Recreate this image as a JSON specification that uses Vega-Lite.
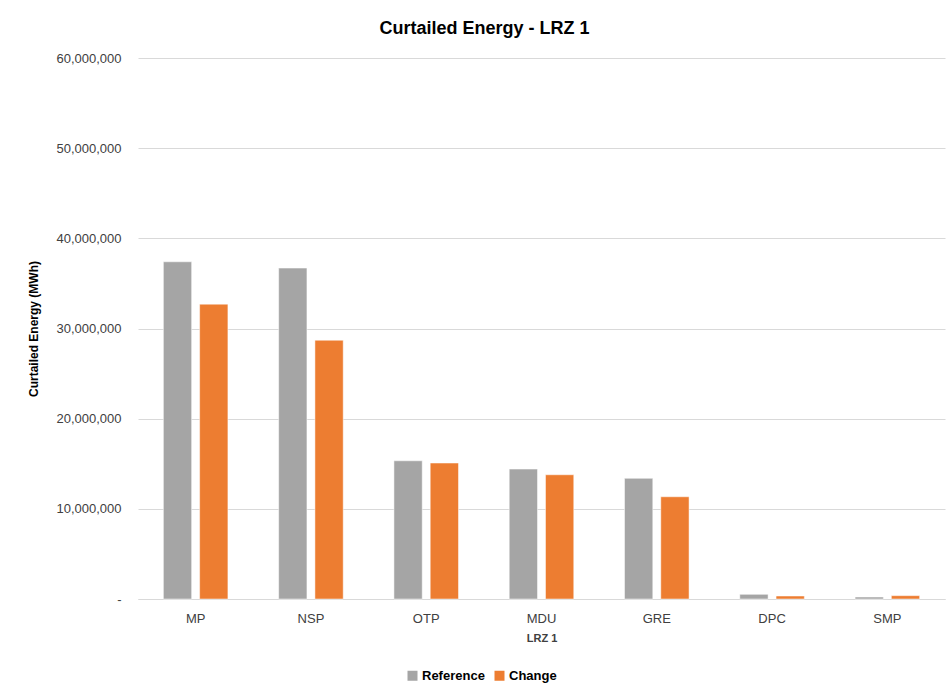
{
  "$schema": "https://vega.github.io/schema/vega-lite/v6.json",
  "autosize": {"type": "none"},
  "width": 807,
  "height": 541,
  "padding": {"left": 138, "top": 58, "right": 4, "bottom": 92},
  "background": "#ffffff",
  "title": {
    "text": "Curtailed Energy - LRZ 1",
    "font": "Liberation Sans",
    "fontSize": 18,
    "fontWeight": "bold",
    "color": "#000000",
    "anchor": "middle",
    "dx": -57,
    "offset": 14
  },
  "data": {
    "values": [
      {"utility": "MP", "series": "Reference", "energy": 37400000},
      {"utility": "MP", "series": "Change", "energy": 32700000},
      {"utility": "NSP", "series": "Reference", "energy": 36700000},
      {"utility": "NSP", "series": "Change", "energy": 28700000},
      {"utility": "OTP", "series": "Reference", "energy": 15330000},
      {"utility": "OTP", "series": "Change", "energy": 15080000},
      {"utility": "MDU", "series": "Reference", "energy": 14410000},
      {"utility": "MDU", "series": "Change", "energy": 13780000},
      {"utility": "GRE", "series": "Reference", "energy": 13380000},
      {"utility": "GRE", "series": "Change", "energy": 11340000},
      {"utility": "DPC", "series": "Reference", "energy": 520000},
      {"utility": "DPC", "series": "Change", "energy": 330000},
      {"utility": "SMP", "series": "Reference", "energy": 220000},
      {"utility": "SMP", "series": "Change", "energy": 370000}
    ]
  },
  "mark": {"type": "bar", "stroke": "#ffffff", "strokeWidth": 0.5},
  "encoding": {
    "x": {
      "field": "utility",
      "type": "nominal",
      "sort": ["MP", "NSP", "OTP", "MDU", "GRE", "DPC", "SMP"],
      "scale": {"paddingInner": 0.44, "paddingOuter": 0.22},
      "axis": {
        "title": "LRZ 1",
        "titleFont": "Liberation Sans",
        "titleFontSize": 11,
        "titleFontWeight": "bold",
        "titleColor": "#404040",
        "titlePadding": 7,
        "labelAngle": 0,
        "labelFont": "Liberation Sans",
        "labelFontSize": 13,
        "labelColor": "#404040",
        "labelPadding": 13,
        "ticks": false,
        "domainColor": "#d9d9d9",
        "domainWidth": 1
      }
    },
    "xOffset": {"field": "series", "type": "nominal", "sort": ["Reference", "Change"], "scale": {"paddingInner": 0.22}},
    "y": {
      "field": "energy",
      "type": "quantitative",
      "scale": {"domain": [0, 60000000], "nice": false},
      "axis": {
        "title": "Curtailed Energy (MWh)",
        "titleFont": "Liberation Sans",
        "titleFontSize": 12,
        "titleFontWeight": "bold",
        "titleColor": "#000000",
        "titlePadding": 15,
        "values": [0, 10000000, 20000000, 30000000, 40000000, 50000000, 60000000],
        "labelExpr": "datum.value == 0 ? '-' : format(datum.value, ',')",
        "labelFont": "Liberation Sans",
        "labelFontSize": 13,
        "labelColor": "#404040",
        "labelPadding": 17,
        "ticks": false,
        "domain": false,
        "grid": true,
        "gridColor": "#d9d9d9",
        "gridWidth": 1
      }
    },
    "color": {
      "field": "series",
      "type": "nominal",
      "sort": ["Reference", "Change"],
      "scale": {"domain": ["Reference", "Change"], "range": ["#a5a5a5", "#ed7d31"]},
      "legend": {
        "title": null,
        "orient": "none",
        "direction": "horizontal",
        "legendX": 268,
        "legendY": 611,
        "symbolType": "square",
        "symbolSize": 100,
        "symbolStrokeWidth": 0,
        "labelFont": "Liberation Sans",
        "labelFontSize": 13,
        "labelFontWeight": "bold",
        "labelColor": "#000000",
        "labelOffset": 3,
        "columnPadding": 8
      }
    }
  },
  "config": {
    "view": {"stroke": null}
  }
}
